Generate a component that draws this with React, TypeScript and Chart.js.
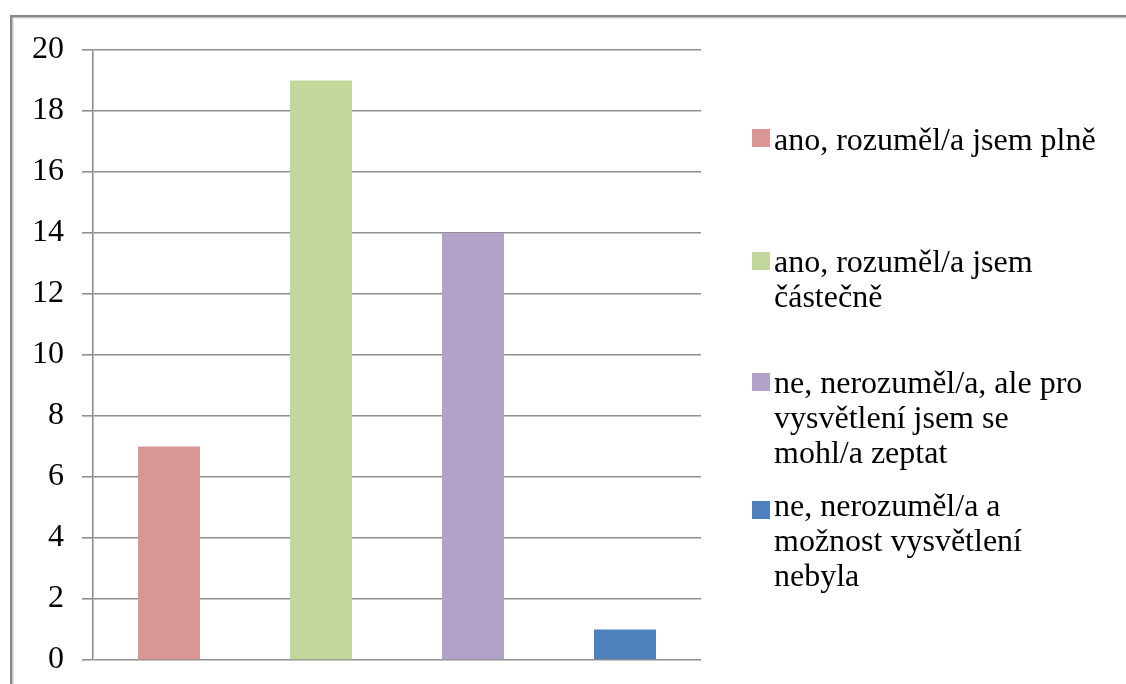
import React, { useEffect, useRef } from "react";
import { Chart, registerables } from "chart.js";

Chart.register(...registerables);

// Survey answers and their counts
const categories: string[] = [
  "ano, rozuměl/a jsem plně",
  "ano, rozuměl/a jsem částečně",
  "ne, nerozuměl/a, ale pro vysvětlení jsem se mohl/a zeptat",
  "ne, nerozuměl/a a možnost vysvětlení nebyla",
];
const counts: number[] = [7, 19, 14, 1];
const barColors: string[] = ["#D99694", "#C3D69B", "#B3A2C7", "#4F81BD"];

// Legend entries broken into the lines they are printed on
const legendLines: string[][] = [
  ["ano, rozuměl/a jsem plně"],
  ["ano, rozuměl/a jsem", "částečně"],
  ["ne, nerozuměl/a, ale pro", "vysvětlení jsem se", "mohl/a zeptat"],
  ["ne, nerozuměl/a a", "možnost vysvětlení", "nebyla"],
];

// Y axis range
const yMin = 0;
const yMax = 20;
const yStep = 2;

const FONT = 'Liberation Serif, "DejaVu Serif", serif';
const GRID = "#8f8f8f";

// Outer frame around the whole chart
const framePlugin = {
  id: "frame",
  beforeDraw(chart: Chart) {
    const ctx = chart.ctx;
    ctx.save();
    ctx.fillStyle = "#ffffff";
    ctx.fillRect(0, 0, chart.width, chart.height);
    ctx.strokeStyle = "#e6e6e6";
    ctx.lineWidth = 1;
    ctx.strokeRect(13.5, 18.5, 3000, 3000);
    ctx.strokeStyle = "#878787";
    ctx.lineWidth = 2.5;
    ctx.strokeRect(11.25, 16.25, 3000, 3000);
    ctx.restore();
  },
};

// Legend to the right of the plot, one square per category
const legendX = 752;
const legendSquareTops = [129, 252, 373, 501];
const legendBaselines = [150, 272, 393, 516];
const legendLineHeight = 35;
const legendBox = 18;

const sideLegendPlugin = {
  id: "sideLegend",
  afterDraw(chart: Chart) {
    const ctx = chart.ctx;
    ctx.save();
    ctx.font = `32px ${FONT}`;
    ctx.textAlign = "left";
    ctx.textBaseline = "alphabetic";
    legendLines.forEach((lines, i) => {
      ctx.fillStyle = barColors[i];
      ctx.fillRect(legendX, legendSquareTops[i], legendBox, legendBox);
      ctx.fillStyle = "#000000";
      lines.forEach((line, j) => {
        ctx.fillText(line, legendX + 22, legendBaselines[i] + j * legendLineHeight);
      });
    });
    ctx.restore();
  },
};

export default function App() {
  const canvasRef = useRef<HTMLCanvasElement | null>(null);

  useEffect(() => {
    const canvas = canvasRef.current;
    if (!canvas) return;
    const chart = new Chart(canvas, {
      type: "bar",
      data: {
        labels: categories,
        datasets: [
          {
            label: "Počet",
            data: counts,
            backgroundColor: barColors,
            borderWidth: 0,
            categoryPercentage: 1,
            barPercentage: 0.408,
          },
        ],
      },
      options: {
        animation: false,
        responsive: false,
        devicePixelRatio: 1,
        layout: {
          padding: { left: 0, top: 50, right: 425, bottom: 24 },
        },
        plugins: {
          legend: { display: false },
          tooltip: { enabled: false },
          title: { display: false },
        },
        scales: {
          x: {
            display: false,
            grid: { display: false },
          },
          y: {
            min: yMin,
            max: yMax,
            afterFit(scale: any) {
              scale.width = 93;
              scale.paddingTop = 0;
              scale.paddingBottom = 0;
            },
            ticks: {
              stepSize: yStep,
              color: "#000000",
              padding: 18,
              font: { family: FONT, size: 32 },
            },
            grid: {
              color: GRID,
              lineWidth: 1.6,
              drawTicks: true,
              tickLength: 11,
            },
            border: {
              display: true,
              color: GRID,
              width: 1.6,
            },
          },
        },
      },
      plugins: [framePlugin, sideLegendPlugin],
    });
    return () => chart.destroy();
  }, []);

  return (
    <div
      style={{
        position: "fixed",
        left: 0,
        top: 0,
        width: 1126,
        height: 684,
        background: "#ffffff",
      }}
    >
      <canvas ref={canvasRef} width={1126} height={684} style={{ display: "block" }} />
    </div>
  );
}
